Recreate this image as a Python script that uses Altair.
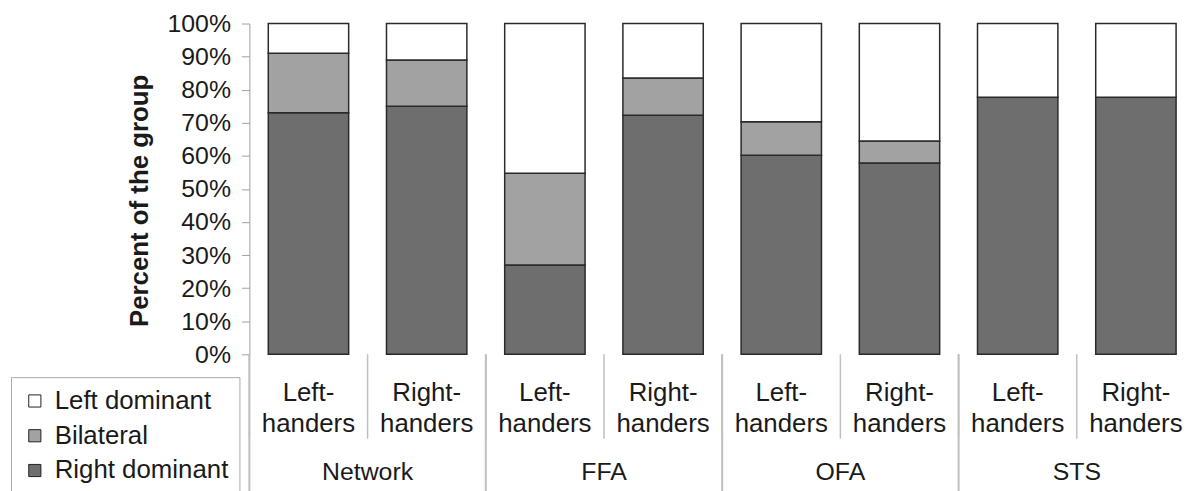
import altair as alt
import pandas as pd

# ---- data ----
groups = ["Network", "Network", "FFA", "FFA", "OFA", "OFA", "STS", "STS"]
hand_line1 = ["Left-", "Right-", "Left-", "Right-", "Left-", "Right-", "Left-", "Right-"]
hand_line2 = ["handers"] * 8
right_dominant = [73.0, 75.0, 27.0, 72.3, 60.2, 57.8, 77.7, 77.7]
bilateral = [18.0, 14.0, 27.7, 11.2, 10.1, 6.7, 0.0, 0.0]
left_dominant = [9.0, 11.0, 45.3, 16.5, 29.7, 35.5, 22.3, 22.3]
series_names = ["Left dominant", "Bilateral", "Right dominant"]
series_colors = ["#ffffff", "#a2a2a2", "#6e6e6e"]
y_ticks = [0, 10, 20, 30, 40, 50, 60, 70, 80, 90, 100]

FONT = "Liberation Sans"
TXT = "#1a1a1a"
W, H = 952, 333

keys = [f"{g} {h}{i}" for i, (g, h) in enumerate(zip(groups, hand_line1))]

rows = []
for i, k in enumerate(keys):
    for name, vals, order in (("Right dominant", right_dominant, 0),
                              ("Bilateral", bilateral, 1),
                              ("Left dominant", left_dominant, 2)):
        rows.append({"key": k, "series": name, "value": vals[i], "ord": order})
bars_df = pd.DataFrame(rows)

labels_df = pd.DataFrame({
    "key": keys,
    "line1": hand_line1,
    "line2": hand_line2,
    "group": groups,
    "first": [i % 2 == 0 for i in range(len(keys))],
})

xscale = alt.Scale(type="band", domain=keys, paddingInner=0, paddingOuter=0)

bars = alt.Chart(bars_df).transform_filter("datum.value > 0").mark_bar(
    width=alt.RelativeBandSize(0.68), stroke="#2a2a2a", strokeWidth=1.5
).encode(
    x=alt.X("key:N", scale=xscale, sort=keys,
            axis=alt.Axis(labels=False, ticks=False, title=None,
                          domainColor="#b0b0b0", domainWidth=1.5)),
    y=alt.Y("value:Q", stack="zero", scale=alt.Scale(domain=[0, 100], nice=False),
            axis=alt.Axis(values=y_ticks, labelExpr="datum.value + '%'",
                          title="Percent of the group", titleFont=FONT,
                          titleFontSize=26, titleFontWeight="bold", titleColor=TXT,
                          titleX=-111, titleY=178, titleBaseline="middle",
                          labelFont=FONT, labelFontSize=25, labelColor=TXT,
                          labelPadding=11, tickSize=8, tickColor="#a0a0a0",
                          domainColor="#a0a0a0", grid=False)),
    color=alt.Color("series:N", title=None,
                    scale=alt.Scale(domain=series_names, range=series_colors),
                    legend=alt.Legend(orient="none", legendX=-240, legendY=356,
                                      direction="vertical", symbolType="square",
                                      symbolSize=150, symbolStrokeColor="#222222",
                                      symbolStrokeWidth=1, labelFont=FONT,
                                      labelFontSize=26, labelColor=TXT,
                                      labelLimit=400,
                                      labelOffset=7, padding=11, rowPadding=9,
                                      strokeColor="#a8a8a8", fillColor="#ffffff")),
    order=alt.Order("ord:Q", sort="ascending"),
)

base_lbl = alt.Chart(labels_df)

inner_sep = base_lbl.mark_rule(color="#c0c0c0", strokeWidth=1.5).encode(
    x=alt.X("key:N", bandPosition=0, axis=None),
    y=alt.value(H), y2=alt.value(H + 85),
)
group_sep = base_lbl.transform_filter("datum.first").mark_rule(
    color="#c0c0c0", strokeWidth=2
).encode(
    x=alt.X("key:N", bandPosition=0, axis=None),
    y=alt.value(H), y2=alt.value(H + 140),
)

txt_kw = dict(font=FONT, fontSize=26, color=TXT, align="center", baseline="alphabetic")
line1 = base_lbl.mark_text(**txt_kw).encode(
    x=alt.X("key:N", axis=None), y=alt.value(380), text="line1:N")
line2 = base_lbl.mark_text(**txt_kw).encode(
    x=alt.X("key:N", axis=None), y=alt.value(411.5), text="line2:N")
group_txt = base_lbl.transform_filter("datum.first").mark_text(
    font=FONT, fontSize=25, color=TXT, align="center", baseline="alphabetic"
).encode(
    x=alt.X("key:N", bandPosition=1, axis=None), y=alt.value(460), text="group:N")

chart = alt.layer(inner_sep, group_sep, line1, line2, group_txt, bars).properties(
    width=W, height=H,
    padding={"left": 243, "top": 14, "right": 0, "bottom": 136},
    autosize=alt.AutoSizeParams(type="none"),
    background="#ffffff",
).configure_view(strokeWidth=0)

chart.save("out.html", embed_options={"renderer": "svg", "actions": False})
